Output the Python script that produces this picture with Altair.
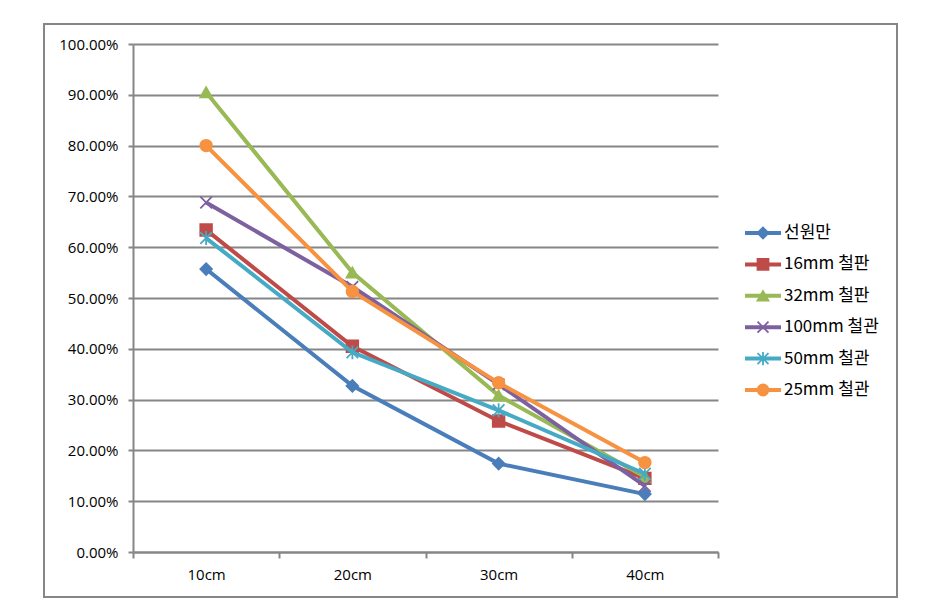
import altair as alt
import pandas as pd

categories = ["10cm", "20cm", "30cm", "40cm"]
series_names = ["선원만", "16mm 철판", "32mm 철판", "100mm 철관", "50mm 철관", "25mm 철관"]
s_base = [0.557, 0.327, 0.174, 0.114]
s_16mm = [0.634, 0.405, 0.258, 0.145]
s_32mm = [0.905, 0.550, 0.308, 0.148]
s_100mm = [0.688, 0.522, 0.330, 0.130]
s_50mm = [0.618, 0.393, 0.279, 0.154]
s_25mm = [0.800, 0.513, 0.333, 0.176]
series_values = [s_base, s_16mm, s_32mm, s_100mm, s_50mm, s_25mm]
colors = ["#4A7EBB", "#BE4B48", "#98B954", "#7D60A0", "#46AAC5", "#F69240"]
shapes = ["diamond", "square", "triangle-up",
          "M-1,-1L1,1M1,-1L-1,1",
          "M-1,-1L1,1M1,-1L-1,1M0,-1.2L0,1.2",
          "circle"]
y_ticks = [i / 10 for i in range(11)]

GRAY = "#868686"
FONT = "Noto Sans CJK KR"
NUMFONT = "Open Sans"

rows = []
for name, vals in zip(series_names, series_values):
    for c, v in zip(categories, vals):
        rows.append({"series": name, "cat": c, "value": v})
df = pd.DataFrame(rows)

x_enc = alt.X("cat:N", sort=categories, title=None,
              scale=alt.Scale(paddingInner=0, paddingOuter=0),
              axis=alt.Axis(labelAngle=0, domainColor=GRAY, domainWidth=2,
                            tickColor=GRAY, tickWidth=2, tickSize=6, tickBand="extent",
                            labelFont=NUMFONT, labelFontSize=15, labelColor="#000",
                            labelPadding=9, grid=False))
y_enc = alt.Y("value:Q", title=None,
              scale=alt.Scale(domain=[0, 1], nice=False),
              axis=alt.Axis(values=y_ticks, format=".2%", domainColor=GRAY, domainWidth=2,
                            tickColor=GRAY, tickWidth=2, tickSize=5,
                            gridColor=GRAY, gridWidth=2, gridOpacity=1,
                            labelFont=NUMFONT, labelFontSize=15, labelColor="#000",
                            labelPadding=10))

layers = []
for i, (name, col, shp) in enumerate(zip(series_names, colors, shapes)):
    sub = df[df["series"] == name]
    base = alt.Chart(sub)
    line = base.mark_line(color=col, strokeWidth=4).encode(x=x_enc, y=y_enc)
    pt = base.mark_point(shape=shp, fill=col, stroke=col, filled=True, fillOpacity=1,
                         opacity=1, strokeWidth=1.8, size=135).encode(x=x_enc, y=y_enc)
    layers += [line, pt]

main = alt.layer(*layers)

# Legend
leg_df = pd.DataFrame({"series": series_names})
leg_y = alt.Y("series:N", sort=series_names, axis=None,
              scale=alt.Scale(type="point", range=[189, 346], padding=0))
leg_layers = []
for name, col, shp in zip(series_names, colors, shapes):
    b = alt.Chart(leg_df[leg_df["series"] == name])
    leg_layers.append(b.mark_rule(color=col, strokeWidth=4).encode(
        x=alt.value(612), x2=alt.value(648), y=leg_y))
    leg_layers.append(b.mark_point(shape=shp, fill=col, stroke=col, filled=True,
                                   strokeWidth=1.8, size=120, opacity=1).encode(
        x=alt.value(630), y=leg_y))
leg_text = alt.Chart(leg_df).mark_text(align="left", baseline="middle", font=FONT,
                                       fontSize=17, color="#000").encode(
    x=alt.value(651), y=leg_y, text="series:N")
legend = alt.layer(*leg_layers, leg_text)

border = alt.Chart(pd.DataFrame({"a": [0]})).mark_rect(
    fill=None, stroke=GRAY, strokeWidth=2).encode(
    x=alt.value(-89), x2=alt.value(764), y=alt.value(-20), y2=alt.value(553))

chart = alt.layer(border, main, legend).resolve_scale(y="independent").properties(
    width=585, height=508,
    autosize=alt.AutoSizeParams(type="none"),
    padding={"left": 125, "top": 36, "right": 202, "bottom": 51},
    background="white",
).configure_view(stroke=None)

chart.save("out.html", embed_options={"renderer": "svg", "actions": False})
